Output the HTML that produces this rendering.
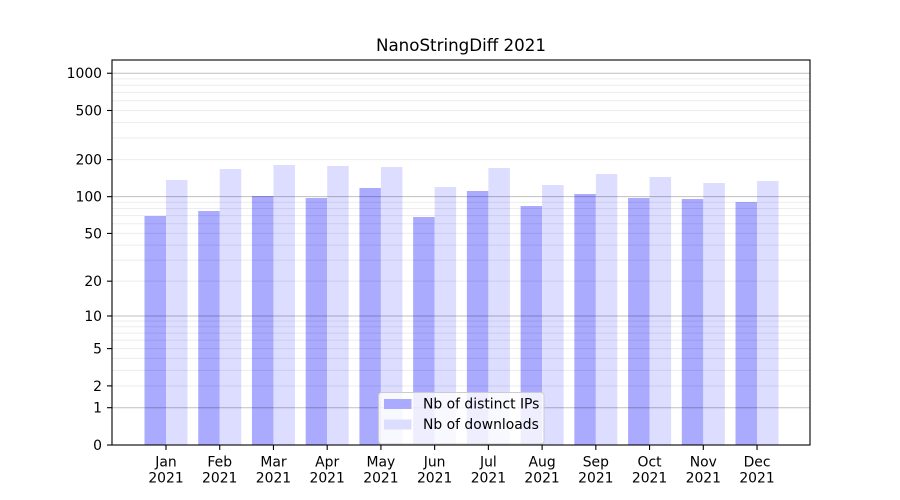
<!DOCTYPE html>
<html><head><meta charset="utf-8"><style>
html,body{margin:0;padding:0;background:#fff;}
svg{display:block;font-family:"DejaVu Sans","Liberation Sans",sans-serif;}
</style></head><body>
<svg width="900" height="500" viewBox="0 0 900 500" xmlns="http://www.w3.org/2000/svg">
<rect width="900" height="500" fill="#fff"/>
<g id="bars"></g>
<g id="grid"></g>
<g id="legend"></g>
<rect x="112" y="60" width="698" height="385" fill="none" stroke="#000" stroke-width="1.1"/>
<g id="ticks" font-size="13.9" fill="#000"></g>
<text x="461" y="51" font-size="16.7" text-anchor="middle">NanoStringDiff 2021</text>
<script>
(function(){
var NS="http://www.w3.org/2000/svg";
function el(t,a,p,txt){var e=document.createElementNS(NS,t);for(var k in a)e.setAttribute(k,a[k]);if(txt!==undefined)e.textContent=txt;p.appendChild(e);return e;}
function Y(v){return 445-123.9*Math.log10(v+1);}
var bars=document.getElementById('bars'),grid=document.getElementById('grid'),ticks=document.getElementById('ticks'),leg=document.getElementById('legend');
var dark=[216,211,196,198,188,217,191,206,194,198,199,202];
var light=[180,169,165,166,167,187,168,185,174,177,183,181];
var months=["Jan","Feb","Mar","Apr","May","Jun","Jul","Aug","Sep","Oct","Nov","Dec"];
var w=21.5;
for(var i=0;i<12;i++){
 var c=166+53.73*i;
 el('rect',{x:c-w,y:dark[i],width:w,height:445-dark[i],fill:'#aaaaff'},bars);
 el('rect',{x:c,y:light[i],width:w,height:445-light[i],fill:'#ddddff'},bars);
 el('line',{x1:c,x2:c,y1:445,y2:450,stroke:'#000','stroke-width':1.1},ticks);
 el('text',{x:c,y:466.5,'text-anchor':'middle'},ticks,months[i]);
 el('text',{x:c,y:482.5,'text-anchor':'middle'},ticks,"2021");
}
// grid
[1,10,100,1000].forEach(function(d){
 for(var m=1;m<=9;m++){
  var v=d*m; var y=Y(v); if(y<60)continue;
  if(m==1) el('line',{x1:112,x2:810,y1:y,y2:y,stroke:'rgba(0,0,0,0.25)','stroke-width':1},grid);
  else el('line',{x1:112,x2:810,y1:y,y2:y,stroke:'rgba(0,0,0,0.075)','stroke-width':1},grid);
 }
});
// y ticks
[0,1,2,5,10,20,50,100,200,500,1000].forEach(function(v){
 var y=Y(v);
 el('line',{x1:107,x2:112,y1:y,y2:y,stroke:'#000','stroke-width':1.1},ticks);
 el('text',{x:102,y:y+5,'text-anchor':'end'},ticks,String(v));
});
// legend
el('rect',{x:378.5,y:392.5,width:165.5,height:51.5,rx:3,ry:3,fill:'rgba(255,255,255,0.8)',stroke:'#cccccc','stroke-width':1},leg);
el('rect',{x:384,y:399,width:27.5,height:10,fill:'#aaaaff'},leg);
el('rect',{x:384,y:419.5,width:27.5,height:10,fill:'#ddddff'},leg);
el('text',{x:423,y:408.7,'font-size':13.9},leg,"Nb of distinct IPs");
el('text',{x:423,y:429.2,'font-size':13.9},leg,"Nb of downloads");
})();
</script>
</svg>
</body></html>
